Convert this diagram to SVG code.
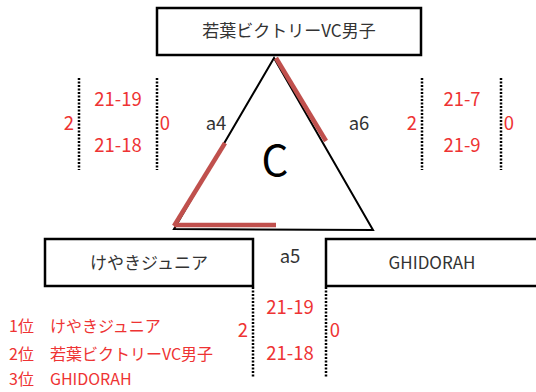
<svg xmlns="http://www.w3.org/2000/svg" width="536" height="392" viewBox="0 0 536 392">
<style>
text{font-family:"Noto Sans CJK JP","Noto Sans",sans-serif;font-size:17px}
.box{fill:#fff;stroke:#000;stroke-width:2.5}
.lbl{fill:#333;text-anchor:middle}
.sc{font-size:18.5px}
.rk{font-size:16px}
.red{fill:#EE3333}
.mid{text-anchor:middle}
.dot{stroke:#000;stroke-width:2.5;stroke-dasharray:2 1.5;fill:none}
.tri{stroke:#000;stroke-width:2;fill:none}
.hl{stroke:#C0504D;stroke-width:4.5;fill:none}
</style>
<rect width="536" height="392" fill="#fff"/>
<g id="triangle">
<polygon class="tri" points="274,58 174,229 373,230"/>
<line class="hl" x1="276" y1="58" x2="326" y2="141"/>
<line class="hl" x1="174" y1="226" x2="225" y2="143"/>
<line class="hl" x1="174" y1="225" x2="276" y2="225"/>
<text x="275" y="176" class="mid" style="font-size:42px;fill:#000">C</text>
</g>
<g id="team-top">
<rect class="box" x="157" y="8" width="264" height="47"/>
<text x="289" y="37" class="lbl">若葉ビクトリーVC男子</text>
</g>
<g id="team-left">
<rect class="box" x="45" y="239" width="208" height="47"/>
<text x="149" y="269" class="lbl">けやきジュニア</text>
</g>
<g id="team-right">
<rect class="box" x="326" y="239" width="212" height="47"/>
<text x="432" y="269" class="lbl">GHIDORAH</text>
</g>
<g id="connectors">
<line class="dot" x1="79" y1="78" x2="79" y2="170"/>
<line class="dot" x1="157" y1="78" x2="157" y2="170"/>
<line class="dot" x1="422" y1="78" x2="422" y2="170"/>
<line class="dot" x1="501" y1="78" x2="501" y2="170"/>
<line class="dot" x1="253" y1="287" x2="253" y2="377"/>
<line class="dot" x1="326" y1="287" x2="326" y2="377"/>
</g>
<g id="match-a4">
<text x="216" y="130" class="lbl sc">a4</text>
<text x="118" y="106" class="red mid sc">21-19</text>
<text x="118" y="152" class="red mid sc">21-18</text>
<text x="69" y="130" class="red mid sc">2</text>
<text x="165" y="130" class="red mid sc">0</text>
</g>
<g id="match-a6">
<text x="359" y="130" class="lbl sc">a6</text>
<text x="462" y="106" class="red mid sc">21-7</text>
<text x="462" y="152" class="red mid sc">21-9</text>
<text x="412" y="130" class="red mid sc">2</text>
<text x="509" y="130" class="red mid sc">0</text>
</g>
<g id="match-a5">
<text x="290" y="263" class="lbl sc">a5</text>
<text x="290" y="314" class="red mid sc">21-19</text>
<text x="290" y="360" class="red mid sc">21-18</text>
<text x="243" y="337" class="red mid sc">2</text>
<text x="335" y="337" class="red mid sc">0</text>
</g>
<g id="ranking">
<text x="9" y="332" class="red rk">1位　けやきジュニア</text>
<text x="9" y="360" class="red rk">2位　若葉ビクトリーVC男子</text>
<text x="9" y="385" class="red rk">3位　GHIDORAH</text>
</g>
</svg>
